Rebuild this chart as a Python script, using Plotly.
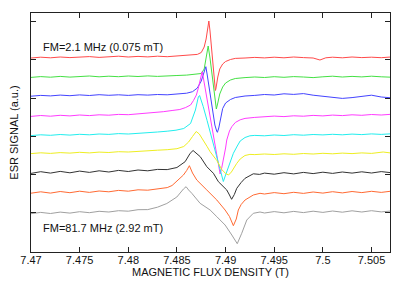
import plotly.graph_objects as go

# ---- data (field in T, ESR signal in a.u. with vertical offsets) ----
red_x = [7.470, 7.471, 7.472, 7.473, 7.474, 7.475, 7.476, 7.477, 7.478, 7.479, 7.480, 7.481, 7.482, 7.483, 7.484, 7.485, 7.486,
         7.4866, 7.4871, 7.4875, 7.4878, 7.4880, 7.4882, 7.48828, 7.4884, 7.4886, 7.4888, 7.4889, 7.48895, 7.4890, 7.4892, 7.4894,
         7.4897, 7.4900, 7.4905, 7.491, 7.492, 7.493, 7.494, 7.495, 7.496, 7.497, 7.498, 7.499, 7.4997, 7.5003, 7.501, 7.502,
         7.503, 7.504, 7.505, 7.506, 7.507]
red_y = [194.0, 194.8, 194.2, 195.0, 194.4, 194.9, 195.4, 194.6, 195.2, 195.8, 195.0, 195.6, 195.1, 195.8, 195.3, 195.9, 196.2,
         196.8, 197.6, 199.5, 205, 213, 226, 231, 221, 200, 179, 168, 161.5, 163, 175, 183,
         188, 190.5, 192.5, 193.6, 194.0, 194.6, 194.1, 194.8, 194.2, 195.0, 194.4, 194.0, 192.0, 194.2, 194.8, 194.2,
         195.0, 194.4, 194.8, 194.3, 195.0]

green_x = [7.470, 7.471, 7.472, 7.473, 7.474, 7.475, 7.476, 7.477, 7.478, 7.479, 7.480, 7.481, 7.482, 7.483, 7.484, 7.485, 7.486,
           7.4866, 7.4871, 7.4875, 7.4878, 7.4879, 7.4881, 7.48821, 7.4884, 7.4886, 7.4888, 7.4890, 7.48905, 7.4892, 7.4894,
           7.4897, 7.4900, 7.4905, 7.491, 7.492, 7.493, 7.494, 7.495, 7.496, 7.497, 7.498, 7.499, 7.500, 7.501, 7.502, 7.503,
           7.504, 7.505, 7.506, 7.507]
green_y = [174.6, 175.4, 174.8, 175.6, 174.9, 175.5, 176.0, 175.2, 175.8, 175.3, 176.0, 175.5, 176.1, 175.6, 176.3, 176.5, 176.9,
           177.3, 177.8, 178.5, 183, 188, 200, 206, 194, 178, 162, 146, 143, 149, 158,
           165, 169, 172, 173.5, 174.4, 175.0, 174.5, 175.3, 174.7, 175.4, 175.0, 174.4, 175.2, 175.8, 175.0, 175.6,
           175.1, 175.8, 175.2, 174.8]

blue_x = [7.470, 7.471, 7.472, 7.473, 7.474, 7.475, 7.476, 7.477, 7.478, 7.479, 7.480, 7.481, 7.482, 7.483, 7.484, 7.485, 7.486,
          7.4866, 7.4871, 7.4875, 7.4878, 7.48797, 7.4881, 7.4883, 7.4885, 7.4887, 7.4889, 7.4891, 7.48916, 7.4893, 7.4895,
          7.4897, 7.490, 7.4905, 7.491, 7.492, 7.493, 7.494, 7.495, 7.496, 7.497, 7.498, 7.499, 7.500, 7.501, 7.502, 7.503,
          7.504, 7.505, 7.506, 7.507]
blue_y = [155.8, 156.6, 156.1, 156.9, 156.3, 157.1, 156.5, 157.3, 156.7, 157.2, 156.6, 157.3, 156.9, 157.5, 157.2, 157.9, 158.8,
          160.3, 164, 171, 180, 185.3, 178, 164, 151, 138, 127, 120.5, 119.7, 124, 136,
          143.5, 149, 152.5, 154.5, 156, 156.6, 157.5, 157.0, 158.2, 157.6, 158.4, 156.8, 155.6, 154.2, 153.6, 154.4,
          155.4, 156.8, 155.0, 154.2]

magenta_x = [7.470, 7.471, 7.472, 7.473, 7.474, 7.475, 7.476, 7.477, 7.478, 7.479, 7.480, 7.481, 7.482, 7.4826, 7.4836, 7.4845,
             7.4853, 7.4859, 7.4864, 7.4867, 7.4870, 7.4872, 7.4874, 7.48759, 7.4877, 7.4879, 7.4881, 7.4883, 7.4885, 7.4887,
             7.4889, 7.4891, 7.4893, 7.48944, 7.4896, 7.48978, 7.4900, 7.49012, 7.4904, 7.49064, 7.4910, 7.4915, 7.492, 7.493,
             7.494, 7.495, 7.496, 7.497, 7.498, 7.499, 7.500, 7.501, 7.502, 7.503, 7.504, 7.505, 7.506, 7.507]
magenta_y = [135.6, 136.5, 135.8, 136.7, 136.1, 137.0, 136.4, 137.2, 136.8, 137.6, 137.3, 138.1, 138.5, 139.0, 140.3, 141.5,
             142.5, 144.5, 147, 151.5, 157, 164, 172.5, 180.3, 175, 164, 153, 141, 130, 119,
             108, 97.5, 87, 78, 84, 92, 104, 112, 121, 125.3, 129.5, 132.2, 133.6, 134.6,
             135.2, 135.9, 135.4, 136.2, 135.8, 136.6, 136.1, 136.9, 136.4, 137.2, 136.7, 137.5, 137.0, 137.7]

cyan_x = [7.470, 7.471, 7.472, 7.473, 7.474, 7.475, 7.476, 7.477, 7.478, 7.479, 7.480, 7.481, 7.482, 7.483, 7.484, 7.4849,
          7.4857, 7.4864, 7.4869, 7.4872, 7.48733, 7.4875, 7.4877, 7.4881, 7.4885, 7.4889, 7.4893, 7.4896, 7.48977, 7.4900,
          7.4903, 7.4908, 7.4912, 7.4915, 7.492, 7.4925, 7.493, 7.494, 7.495, 7.496, 7.497, 7.498, 7.499, 7.500, 7.501, 7.502,
          7.503, 7.504, 7.505, 7.506, 7.507]
cyan_y = [116.4, 117.2, 116.7, 117.5, 116.9, 117.7, 117.2, 118.0, 117.6, 118.4, 118.0, 118.9, 119.3, 120.0, 120.8, 121.8,
          123.5, 128.5, 142, 155, 156.5, 152, 145.5, 131.5, 117.5, 103, 88.5, 78, 70.5, 77,
          85.5, 98.7, 106, 111, 114.5, 116.2, 116.6, 116.2, 117.0, 116.5, 117.3, 116.8, 117.5, 117.1, 117.7, 117.2,
          117.9, 117.4, 118.1, 117.6, 118.2]

yellow_x = [7.470, 7.471, 7.472, 7.473, 7.474, 7.475, 7.476, 7.477, 7.478, 7.479, 7.480, 7.481, 7.482, 7.483, 7.484, 7.485,
            7.4857, 7.4862, 7.4866, 7.48698, 7.4873, 7.48772, 7.4881, 7.48841, 7.4888, 7.4891, 7.48961, 7.4900, 7.4903, 7.4906,
            7.49114, 7.4915, 7.49199, 7.4925, 7.493, 7.494, 7.495, 7.496, 7.497, 7.498, 7.499, 7.500, 7.501, 7.502, 7.503,
            7.504, 7.505, 7.5062, 7.507]
yellow_y = [98.4, 99.2, 98.6, 99.4, 98.9, 99.7, 99.1, 99.9, 99.5, 100.3, 100.0, 100.8, 101.0, 101.8, 102.3, 103.3,
            105.5, 110, 115.5, 120.5, 118, 112, 105.5, 100.3, 95, 91.5, 82.5, 78.5, 77, 80,
            88.5, 93, 96.5, 97.6, 97.4, 98.0, 97.5, 98.2, 97.7, 98.5, 98.0, 98.7, 98.2, 98.9, 98.4,
            99.1, 98.6, 100.0, 99.0]

black_x = [7.470, 7.471, 7.472, 7.473, 7.474, 7.475, 7.476, 7.477, 7.478, 7.479, 7.480, 7.481, 7.482, 7.483, 7.484, 7.485,
           7.48584, 7.48636, 7.48666, 7.4870, 7.4874, 7.48807, 7.48875, 7.48926, 7.4897, 7.49012, 7.4904, 7.49062, 7.4909,
           7.49115, 7.4916, 7.492, 7.49285, 7.4935, 7.494, 7.495, 7.496, 7.497, 7.498, 7.499, 7.500, 7.501, 7.502, 7.503,
           7.504, 7.505, 7.506, 7.507]
black_y = [78.6, 80.3, 78.9, 80.6, 79.2, 80.9, 79.6, 81.2, 80.0, 81.6, 80.5, 82.0, 81.2, 82.6, 82.4, 84.5,
           90.3, 98.7, 101.5, 99, 95.3, 85.3, 78.7, 70.3, 66.5, 62, 57, 52.7, 57.5,
           63.7, 69.5, 73.7, 78.2, 77.6, 78.9, 77.8, 79.3, 78.1, 79.6, 78.4, 79.8, 78.6, 80.0, 78.9,
           80.2, 79.0, 80.4, 79.3]

orange_x = [7.470, 7.471, 7.472, 7.473, 7.474, 7.475, 7.476, 7.477, 7.478, 7.479, 7.480, 7.481, 7.482, 7.483, 7.484, 7.4845,
            7.48516, 7.48567, 7.4860, 7.48628, 7.4866, 7.48704, 7.48807, 7.4891, 7.48995, 7.4904, 7.4908, 7.4911, 7.49131,
            7.4916, 7.492, 7.49285, 7.49354, 7.494, 7.495, 7.496, 7.497, 7.498, 7.499, 7.500, 7.501, 7.502, 7.503, 7.504,
            7.505, 7.506, 7.507]
orange_y = [58.8, 60.2, 58.9, 60.5, 59.3, 60.8, 59.6, 61.0, 60.2, 61.6, 60.8, 62.2, 61.8, 63.3, 64.4, 66.5,
            72, 77, 81.5, 86.3, 79, 72, 62, 52, 42, 35.5, 26.3, 33, 42,
            47.5, 52, 57, 58.7, 58.0, 59.4, 58.3, 59.7, 58.6, 60.0, 58.9, 60.3, 59.1, 60.5, 59.4,
            60.7, 59.6, 60.8]

gray_x = [7.470, 7.471, 7.472, 7.473, 7.474, 7.475, 7.476, 7.477, 7.478, 7.479, 7.480, 7.481, 7.482, 7.483, 7.48396, 7.4845,
          7.48499, 7.48567, 7.48594, 7.4862, 7.48653, 7.48738, 7.48841, 7.4891, 7.48995, 7.49064, 7.4912, 7.49166, 7.49218,
          7.49285, 7.49354, 7.494, 7.495, 7.496, 7.497, 7.498, 7.499, 7.500, 7.501, 7.502, 7.503, 7.504, 7.505, 7.506, 7.507]
gray_y = [38.3, 39.6, 38.5, 39.9, 38.9, 40.3, 39.3, 40.7, 40.0, 41.3, 40.8, 42.3, 42.4, 44.8, 48.5, 51.5,
          55, 63, 65.3, 62, 58.7, 48.7, 42, 35.3, 27, 17, 8.3, 18.7, 32,
          38.7, 40.0, 39.0, 40.4, 39.2, 40.6, 39.4, 40.8, 39.6, 41.0, 39.8, 41.2, 40.0, 41.3, 40.1, 41.0]

x_tick_vals = [7.47, 7.475, 7.48, 7.485, 7.49, 7.495, 7.5, 7.505]
x_tick_text = ["7.47", "7.475", "7.48", "7.485", "7.49", "7.495", "7.5", "7.505"]
y_tick_vals = [39.3, 77.5, 115.7, 153.9, 192.1, 230.3]

label_top = "FM=2.1 MHz (0.075 mT)"
label_bottom = "FM=81.7 MHz (2.92 mT)"

series = [
    (red_x, red_y, "#ff4a4a"),
    (green_x, green_y, "#44e044"),
    (blue_x, blue_y, "#4343ff"),
    (magenta_x, magenta_y, "#ff3cff"),
    (cyan_x, cyan_y, "#22eeee"),
    (yellow_x, yellow_y, "#eeee22"),
    (black_x, black_y, "#333333"),
    (orange_x, orange_y, "#ff6a33"),
    (gray_x, gray_y, "#a0a0a0"),
]

fig = go.Figure()
for xs, ys, col in series:
    fig.add_trace(go.Scatter(x=xs, y=ys, mode="lines", line=dict(color=col, width=1), showlegend=False,
                             hoverinfo="skip"))

# the page body keeps its default 8 px margin, so the figure is made 8 px smaller
# and its left/top margins are reduced by 8 px to land the frame where the reference has it
font_family = "Liberation Sans, Arial, sans-serif"
fig.update_layout(
    width=401, height=278,
    margin=dict(l=23, r=19, t=5, b=34, autoexpand=False),
    paper_bgcolor="white", plot_bgcolor="white",
    font=dict(family=font_family, size=11, color="#111"),
    showlegend=False,
)
fig.update_xaxes(range=[7.47, 7.5069], tickvals=x_tick_vals, ticktext=x_tick_text, automargin=False,
                 ticks="inside", ticklen=5, tickcolor="#222", mirror="ticks", showline=True, linecolor="#222",
                 linewidth=1, showgrid=False, zeroline=False, tickfont=dict(size=11), ticklabelstandoff=-2,
                 title=dict(text="MAGNETIC FLUX DENSITY (T)", font=dict(size=11), standoff=2))
fig.update_yaxes(range=[0, 239], tickvals=y_tick_vals, showticklabels=False, automargin=False,
                 ticks="inside", ticklen=5, tickcolor="#222", mirror="ticks", showline=True, linecolor="#222",
                 linewidth=1, showgrid=False, zeroline=False,
                 title=dict(text="ESR SIGNAL (a.u.)", font=dict(size=11), standoff=10))

fig.add_annotation(text=label_top, xref="paper", yref="paper", x=0.027, y=0.859, xanchor="left", yanchor="middle",
                   showarrow=False, font=dict(size=11))
fig.add_annotation(text=label_bottom, xref="paper", yref="paper", x=0.027, y=0.099, xanchor="left", yanchor="middle",
                   showarrow=False, font=dict(size=11))

fig.write_html("out.html")
